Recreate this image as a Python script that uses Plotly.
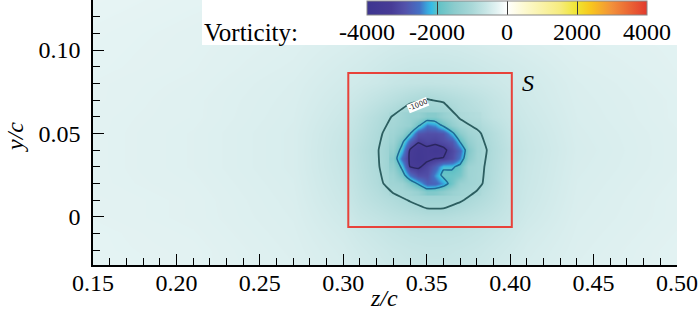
import plotly.graph_objects as go

# ---- data ----
# coarse vorticity field over the whole window
z_cols = [0.15, 0.21, 0.27, 0.30, 0.31, 0.32, 0.33, 0.34, 0.35, 0.36, 0.37, 0.38, 0.39, 0.40, 0.41, 0.44, 0.50]
y_rows = [-0.03, -0.02, -0.01, 0.00, 0.01, 0.02, 0.03, 0.04, 0.05, 0.06, 0.07, 0.08, 0.09, 0.11, 0.13]

vort_m003 = [-270, -300, -360, -430, -470, -510, -550, -580, -600, -600, -580, -550, -510, -470, -430, -360, -300]
vort_m002 = [-280, -300, -370, -450, -500, -540, -580, -610, -630, -630, -610, -580, -540, -500, -450, -370, -300]
vort_m001 = [-280, -310, -380, -480, -540, -590, -640, -680, -700, -700, -680, -640, -590, -540, -480, -380, -310]
vort_000 = [-290, -320, -390, -520, -620, -680, -750, -800, -850, -850, -800, -740, -680, -600, -520, -390, -320]
vort_001 = [-290, -320, -400, -560, -700, -800, -900, -1020, -1150, -1150, -1030, -900, -780, -640, -550, -400, -320]
vort_002 = [-300, -330, -410, -590, -750, -900, -1150, -1300, -1380, -1350, -1250, -1080, -850, -650, -570, -410, -330]
vort_003 = [-300, -340, -420, -610, -780, -940, -1300, -1400, -1450, -1400, -1300, -1100, -880, -680, -580, -420, -340]
vort_004 = [-300, -340, -420, -620, -800, -960, -1300, -1400, -1450, -1450, -1350, -1150, -900, -700, -590, -430, -340]
vort_005 = [-300, -340, -420, -600, -750, -920, -1150, -1350, -1400, -1400, -1300, -1050, -850, -650, -570, -420, -340]
vort_006 = [-300, -330, -410, -560, -700, -850, -1020, -1300, -1350, -1300, -950, -850, -700, -600, -540, -410, -330]
vort_007 = [-290, -330, -400, -520, -600, -700, -800, -920, -1020, -950, -850, -750, -650, -560, -510, -400, -330]
vort_008 = [-290, -320, -390, -480, -520, -560, -620, -660, -680, -670, -640, -600, -560, -520, -490, -390, -320]
vort_009 = [-280, -310, -370, -450, -480, -520, -560, -590, -600, -600, -580, -550, -520, -490, -460, -370, -310]
vort_011 = [-270, -300, -340, -380, -400, -420, -440, -450, -460, -450, -440, -420, -400, -390, -370, -330, -300]
vort_013 = [-250, -280, -300, -330, -340, -350, -360, -370, -370, -370, -360, -350, -340, -330, -320, -300, -280]

vorticity = [vort_m003, vort_m002, vort_m001, vort_000, vort_001, vort_002, vort_003,
             vort_004, vort_005, vort_006, vort_007, vort_008, vort_009, vort_011, vort_013]

# finer vortex-core field
core_z = [0.330, 0.335, 0.340, 0.345, 0.350, 0.355, 0.360, 0.365, 0.370, 0.375, 0.380]
core_y = [0.015, 0.020, 0.025, 0.030, 0.035, 0.040, 0.045, 0.050, 0.055, 0.060]

core_015 = [-1025, -1093, -1160, -1300, -1625, -1610, -1460, -1250, -1140, -1065, -990]
core_020 = [-1150, -1225, -1640, -2100, -2700, -2650, -2300, -1775, -1250, -1165, -1080]
core_025 = [-1225, -1700, -2500, -2950, -2950, -2350, -1850, -1850, -1700, -1175, -1090]
core_030 = [-1400, -2100, -3320, -3400, -3100, -2700, -2100, -2100, -1850, -1200, -1100]
core_035 = [-1550, -2600, -3400, -3650, -3450, -3320, -3280, -2980, -2400, -1505, -1125]
core_040 = [-1390, -2200, -3350, -3600, -3450, -3600, -3450, -3065, -2600, -1625, -1150]
core_045 = [-1225, -1820, -2700, -3250, -3100, -3150, -3000, -2800, -1980, -1380, -1100]
core_050 = [-1150, -1390, -1950, -2850, -2950, -2955, -2850, -2150, -1520, -1175, -1050]
core_055 = [-1085, -1205, -1325, -1850, -2500, -2350, -1850, -1400, -1125, -1012, -950]
core_060 = [-1020, -1160, -1300, -1330, -1550, -1550, -1310, -1125, -950, -900, -850]

core_vorticity = [core_015, core_020, core_025, core_030, core_035,
                  core_040, core_045, core_050, core_055, core_060]

outer_level = -1000
core_levels = [-2000, -3300]
core_colors = ["#1e6a96", "#2a2660"]

cbar_ticks = [-4000, -2000, 0, 2000, 4000]
cbar_labels = ["-4000", "-2000", "0", "2000", "4000"]

x_ticks = [0.15, 0.20, 0.25, 0.30, 0.35, 0.40, 0.45, 0.50]
x_labels = ["0.15", "0.20", "0.25", "0.30", "0.35", "0.40", "0.45", "0.50"]
y_ticks = [0.0, 0.05, 0.10]
y_labels = ["0", "0.05", "0.10"]

box_S = dict(z0=0.303, z1=0.401, y0=-0.0062, y1=0.0862)
label_S = dict(z=0.4108, y=0.0805)

FONT = "Liberation Serif, Times New Roman, serif"

colorscale = [
    [0.0, "#3d3590"],
    [0.0875, "#473c96"],
    [0.1375, "#5352ab"],
    [0.1875, "#4470c4"],
    [0.215, "#3aa6dc"],
    [0.231, "#35bde6"],
    [0.25, "#5ec1c5"],
    [0.3125, "#8ccccd"],
    [0.375, "#a9d8d8"],
    [0.425, "#c8e6e6"],
    [0.4625, "#e2f2f2"],
    [0.5, "#ffffff"],
    [0.5625, "#fdf9d0"],
    [0.6875, "#f6ec80"],
    [0.75, "#f0e530"],
    [0.8, "#f8c61e"],
    [0.875, "#f2903a"],
    [1.0, "#e23a2e"],
]

W, H = 700, 312
L, R, T, B = 93, 23, 0, 47
pw = W - L - R
ph = H - T - B

# colour bar geometry (pixels)
CB_X0, CB_X1 = 367, 647
CB_LABEL_Y = 32.5


def px_x(px):
    return (px - L) / pw


def px_y(py):
    return 1 - (py - T) / ph


fig = go.Figure()

fig.add_trace(go.Heatmap(
    x=z_cols, y=y_rows, z=vorticity,
    zmin=-4000, zmax=4000, colorscale=colorscale, zsmooth="best",
    hoverinfo="skip",
    colorbar=dict(
        orientation="h",
        x=px_x((CB_X0 + CB_X1) / 2), xanchor="center",
        y=px_y(1), yanchor="top", ypad=0, xpad=0,
        thickness=14, len=CB_X1 - CB_X0, lenmode="pixels",
        tickmode="array", tickvals=cbar_ticks, showticklabels=False,
        ticks="inside", ticklen=14, tickcolor="#3a3a3a", tickwidth=1.2,
        outlinecolor="#888888", outlinewidth=1,
    ),
))

fig.add_trace(go.Heatmap(
    x=core_z, y=core_y, z=core_vorticity,
    zmin=-4000, zmax=4000, colorscale=colorscale, zsmooth="best",
    showscale=False, hoverinfo="skip",
))

fig.add_trace(go.Contour(
    x=z_cols, y=y_rows, z=vorticity,
    autocontour=False,
    contours=dict(start=outer_level, end=outer_level, size=1, coloring="none"),
    line=dict(color="#2c5e60", width=1.8, smoothing=0.3),
    showscale=False, hoverinfo="skip",
))

for lev, col in zip(core_levels, core_colors):
    fig.add_trace(go.Contour(
        x=core_z, y=core_y, z=core_vorticity,
        autocontour=False,
        contours=dict(start=lev, end=lev, size=1, coloring="none"),
        line=dict(color=col, width=1.5, smoothing=0.3),
        showscale=False, hoverinfo="skip",
    ))

shapes = [
    dict(type="rect", xref="paper", yref="paper",
         x0=px_x(202), x1=1.02, y0=px_y(45), y1=1.0,
         fillcolor="white", line=dict(width=0), layer="above"),
    dict(type="rect", xref="x", yref="y",
         x0=box_S["z0"], x1=box_S["z1"], y0=box_S["y0"], y1=box_S["y1"],
         line=dict(color="#e8423a", width=2), layer="above"),
]

annotations = [
    dict(text="Vorticity:", xref="paper", yref="paper",
         x=px_x(202), y=px_y(CB_LABEL_Y), xanchor="left", yanchor="middle",
         showarrow=False, font=dict(family=FONT, size=25, color="black")),
    dict(text="<i>S</i>", xref="x", yref="y", x=label_S["z"], y=label_S["y"],
         showarrow=False, font=dict(family=FONT, size=24, color="black")),
    dict(text="-1000", xref="x", yref="y", x=0.345, y=0.0668, textangle=-22,
         showarrow=False, bgcolor="white", borderpad=0,
         font=dict(family="DejaVu Sans", size=7, color="#222")),
    dict(text="<i>z/c</i>", xref="paper", yref="paper",
         x=px_x(384), y=px_y(298), xanchor="center", yanchor="middle",
         showarrow=False, font=dict(family=FONT, size=24, color="black")),
    dict(text="<i>y/c</i>", xref="paper", yref="paper",
         x=px_x(15), y=px_y(137), xanchor="center", yanchor="middle",
         textangle=-90, showarrow=False, font=dict(family=FONT, size=24, color="black")),
]

for v, lab in zip(cbar_ticks, cbar_labels):
    cx = CB_X0 + (v - cbar_ticks[0]) / (cbar_ticks[-1] - cbar_ticks[0]) * (CB_X1 - CB_X0)
    annotations.append(dict(
        text=lab, xref="paper", yref="paper", x=px_x(cx), y=px_y(CB_LABEL_Y),
        xanchor="center", yanchor="middle", showarrow=False,
        font=dict(family=FONT, size=24, color="black")))

fig.update_layout(
    width=W, height=H,
    margin=dict(l=L, r=R, t=T, b=B, pad=0),
    paper_bgcolor="white", plot_bgcolor="white",
    font=dict(family=FONT, size=24, color="black"),
    shapes=shapes, annotations=annotations,
    showlegend=False,
)

fig.update_xaxes(
    range=[0.15, 0.50], tickmode="array", tickvals=x_ticks, ticktext=x_labels,
    ticks="inside", ticklen=11, tickwidth=1.3, tickcolor="black",
    showline=True, linecolor="black", linewidth=1.5, showgrid=False, zeroline=False,
    minor=dict(dtick=0.01, tick0=0.15, ticks="inside", ticklen=7, tickcolor="black", tickwidth=1, showgrid=False),
    tickfont=dict(family=FONT, size=24, color="black"),
    ticklabelstandoff=-5,
)
fig.update_yaxes(
    range=[-0.029, 0.13], tickmode="array", tickvals=y_ticks, ticktext=y_labels,
    ticks="inside", ticklen=11, tickwidth=1.3, tickcolor="black",
    showline=True, linecolor="black", linewidth=1.5, showgrid=False, zeroline=False,
    minor=dict(dtick=0.01, tick0=0.0, ticks="inside", ticklen=7, tickcolor="black", tickwidth=1, showgrid=False),
    tickfont=dict(family=FONT, size=24, color="black"),
    ticklabelstandoff=6,
)

fig.write_html("out.html",
               config={"displayModeBar": False},
               post_script="document.body.style.margin='0';document.body.style.padding='0';")
